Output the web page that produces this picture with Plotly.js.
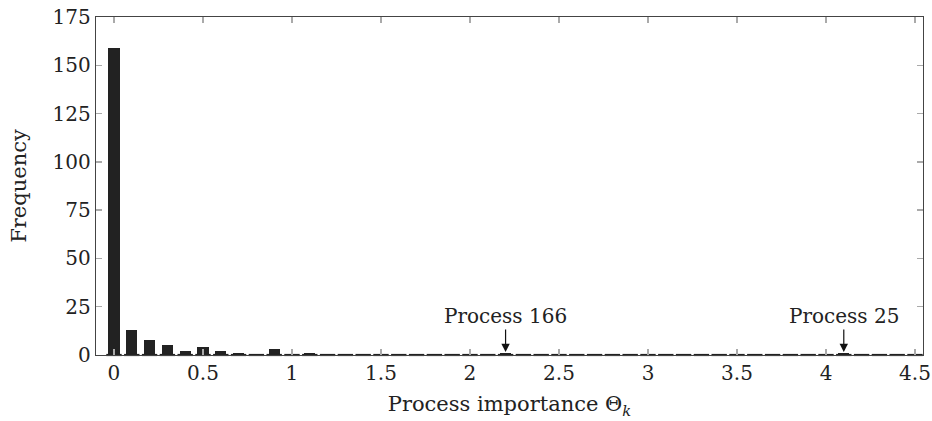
<!DOCTYPE html>
<html>
<head>
<meta charset="utf-8">
<script src="https://cdn.plot.ly/plotly-3.0.1.min.js"></script>
<style>html,body{margin:0;padding:0;background:#fff;}#chart{width:932px;height:421px;}</style>
</head>
<body>
<div id="chart"></div>
<script>
// Bin centres (process importance Θ_k) and frequencies
const binCenters = [0,0.1,0.2,0.3,0.4,0.5,0.6,0.7,0.8,0.9,1.0,1.1,1.2,1.3,1.4,1.5,1.6,1.7,1.8,1.9,2.0,2.1,2.2,2.3,2.4,2.5,2.6,2.7,2.8,2.9,3.0,3.1,3.2,3.3,3.4,3.5,3.6,3.7,3.8,3.9,4.0,4.1,4.2,4.3,4.4,4.5];
const frequency  = [159,13,8,5,2,4,2,1,0,3,0,1,0,0,0,0,0,0,0,0,0,0,1,0,0,0,0,0,0,0,0,0,0,0,0,0,0,0,0,0,0,1,0,0,0,0];
const xTicks = [0,0.5,1,1.5,2,2.5,3,3.5,4,4.5];
const xTickLabels = ['0','0.5','1','1.5','2','2.5','3','3.5','4','4.5'];
const yTicks = [0,25,50,75,100,125,150,175];
const callouts = [{label:'Process 166', x:2.2, y:1}, {label:'Process 25', x:4.1, y:1}];

const font = {family:'"DejaVu Serif", "Liberation Serif", serif', size:20, color:'#222'};
const titleFont = {family:'"DejaVu Serif", "Liberation Serif", serif', size:21, color:'#222'};

const traces = [
  {type:'bar', x:binCenters, y:frequency, width:0.062,
   marker:{color:'#222', line:{width:0}}, hoverinfo:'skip'},
  {type:'scatter', mode:'markers', x:binCenters, y:binCenters.map(()=>0),
   marker:{symbol:'line-ew', size:11, line:{width:2.2, color:'#222'}}, hoverinfo:'skip', cliponaxis:false}
];

const annotations = callouts.map(c=>({
  x:c.x, y:c.y, xref:'x', yref:'y', text:c.label, showarrow:true,
  arrowhead:2, arrowsize:1.4, arrowwidth:1.2, arrowcolor:'#111',
  ax:0, ay:-37, standoff:1, font:font
}));

const layout = {
  width:932, height:421,
  margin:{l:96, r:9, t:17, b:66},
  paper_bgcolor:'#fff', plot_bgcolor:'#fff',
  showlegend:false,
  font:font,
  bargap:0,
  xaxis:{range:[-0.101,4.545], tickvals:xTicks, ticktext:xTickLabels,
    ticks:'inside', ticklen:6, tickcolor:'#aaa', tickwidth:1.3,
    showline:true, linecolor:'#444', linewidth:1.3, mirror:'ticks',
    showgrid:false, zeroline:false, tickfont:font,
    title:{text:'Process importance Θ<i><sub>k</sub></i>', font:titleFont, standoff:12}},
  yaxis:{range:[0,175], tickvals:yTicks,
    ticks:'inside', ticklen:6, tickcolor:'#aaa', tickwidth:1.3,
    showline:true, linecolor:'#444', linewidth:1.3, mirror:'ticks',
    showgrid:false, zeroline:false, tickfont:font,
    title:{text:'Frequency', font:titleFont, standoff:20}},
  annotations:annotations
};

Plotly.newPlot('chart', traces, layout, {displayModeBar:false, staticPlot:true});
</script>
</body>
</html>
